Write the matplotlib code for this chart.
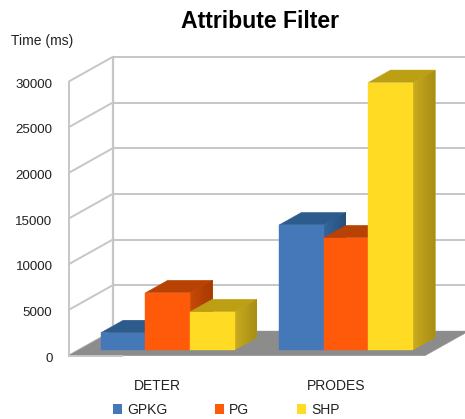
#!/usr/bin/env python
# -*- coding: utf-8 -*-

import matplotlib
matplotlib.use("Agg")
import matplotlib.pyplot as plt
from matplotlib.colors import to_rgb
from matplotlib.patches import Patch, Polygon
from matplotlib.transforms import ScaledTranslation

plt.rcParams['font.family'] = ['Liberation Sans', 'DejaVu Sans']

categories = ["DETER", "PRODES"]
series_names = ["GPKG", "PG", "SHP"]
gpkg_ms = [1900, 13700]
pg_ms = [6270, 12290]
shp_ms = [4190, 29290]
y_ticks = [0, 5000, 10000, 15000, 20000, 25000, 30000]

front_colors = ["#4478b8", "#ff5a0a", "#ffdb23"]
top_colors = ["#2d5c8c", "#b84203", "#bd9f14"]
side_start = ["#33659a", "#c44a05", "#c8aa1e"]
side_end = ["#28507c", "#a83a02", "#a88f15"]

W, H = 465, 419
fig = plt.figure(figsize=(W / 100, H / 100), dpi=100)
ax = fig.add_axes([68.5 / W, 1 - 355.7 / H, 356.5 / W, 274 / H])
ax.set_xlim(-0.5, 1.5)
ax.set_ylim(0, 30000)

# oblique projection: how far the full depth shifts a point, in data units
depth_x = 44 / 178.25
depth_y = 2700
bar_w = 0.25


def proj(x, y, d):
    return (x + d * depth_x, y + d * depth_y)


def face(points, color, zorder, lw=0.3):
    ax.add_patch(Polygon(points, closed=True, facecolor=color,
                         edgecolor=color if lw > 0 else "none",
                         linewidth=lw, zorder=zorder, clip_on=False))


def mix(a, b, t):
    a, b = to_rgb(a), to_rgb(b)
    return tuple(a[k] + (b[k] - a[k]) * t for k in range(3))


def draw_bar(x0, x1, value, i, zorder):
    d0, d1 = 0.23, 0.736
    # side face shaded in strips, each one painted over the rest of the depth
    strips = 10
    for s in range(strips):
        a = d0 + (d1 - d0) * s / strips
        face([proj(x1, 0, a), proj(x1, 0, d1), proj(x1, value, d1), proj(x1, value, a)],
             mix(side_start[i], side_end[i], s / (strips - 1)), zorder, lw=0)
    face([proj(x0, value, d0), proj(x1, value, d0), proj(x1, value, d1), proj(x0, value, d1)],
         top_colors[i], zorder)
    face([proj(x0, 0, d0), proj(x1, 0, d0), proj(x1, value, d0), proj(x0, value, d0)],
         front_colors[i], zorder + 0.1)


# walls and grid
grid_color = "#c6c6c6"
xmin, xmax = -0.5, 1.5
right_edge = xmin + (465 - 112) / 178.25 + depth_x
for v in y_ticks:
    ax.plot([xmin, xmin + depth_x], [v, v + depth_y], color=grid_color, lw=1.4,
            zorder=1, clip_on=False, solid_capstyle="butt")
    if v > 0:
        ax.plot([xmin + depth_x, right_edge], [v + depth_y, v + depth_y], color=grid_color,
                lw=1.4, zorder=1, clip_on=False, solid_capstyle="butt")
ax.plot([xmin, xmin], [0, 30000], color=grid_color, lw=1.4, zorder=1, clip_on=False)
ax.plot([xmin + depth_x] * 2, [depth_y, 30000 + depth_y], color=grid_color, lw=1.6,
        zorder=1, clip_on=False)

# floor
face([proj(xmin, 0, 0), proj(xmax, 0, 0), proj(xmax, 0, 1), proj(xmin, 0, 1)], "#8c8c8c", 2)
ax.plot([xmin, xmin + 0.3], [0, 0], color=grid_color, lw=1.4, zorder=3, clip_on=False)

values = [gpkg_ms, pg_ms, shp_ms]
for c in range(len(categories)):
    for i in range(len(series_names)):
        x0 = c + (i - 1.5) * bar_w
        draw_bar(x0, x0 + bar_w, values[i][c], i, 4 + i)

for s in ax.spines.values():
    s.set_visible(False)
ax.patch.set_visible(False)
ax.set_xticks(range(len(categories)), categories)
ax.set_yticks(y_ticks, [str(v) for v in y_ticks])
ax.tick_params(axis="y", length=0, pad=11.5, labelsize=9.6, labelcolor="#222222")
ax.tick_params(axis="x", length=0, pad=16.5, labelsize=10, labelcolor="#222222")

# value labels sit a little under their grid level in the original
shift = ScaledTranslation(0, -1.5 / 100, fig.dpi_scale_trans)
for label in ax.get_yticklabels():
    label.set_transform(label.get_transform() + shift)

fig.text(260 / W, 1 - 22 / H, "Attribute Filter", ha="center", va="center",
         fontsize=16.6, fontweight="bold", color="black")
fig.text(11 / W, 1 - 41 / H, "Time (ms)", ha="left", va="center", fontsize=10, color="#222222")

handles = [Patch(facecolor=c, edgecolor="none") for c in front_colors]
fig.legend(handles, series_names, loc="center", bbox_to_anchor=(226.5 / W, 1 - 410 / H), ncol=3,
           frameon=False, fontsize=10, handlelength=0.65, handleheight=0.65,
           handletextpad=0.35, columnspacing=3.45, borderpad=0, labelcolor="#222222")

fig.savefig("out.png", dpi=100)
